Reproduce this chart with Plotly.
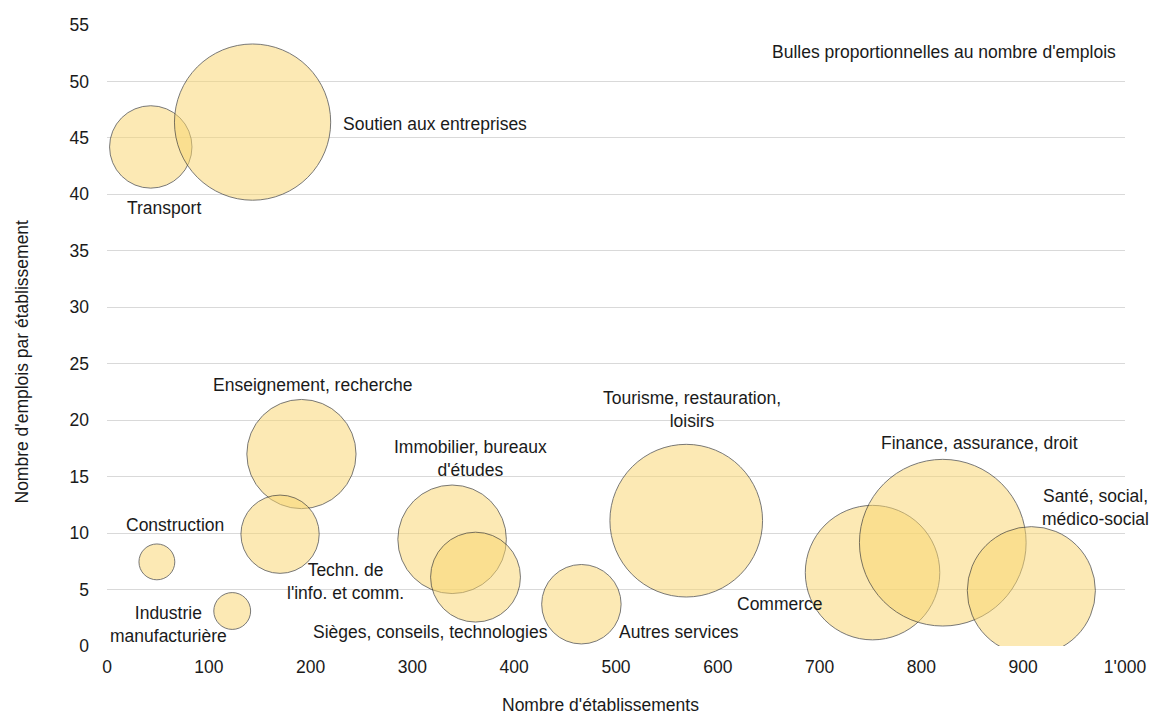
import plotly.graph_objects as go

# ---- data ----
secteurs = [
    "Transport", "Soutien aux entreprises", "Enseignement, recherche",
    "Techn. de<br>l'info. et comm.", "Construction", "Industrie<br>manufacturière",
    "Immobilier, bureaux<br>d'études", "Sièges, conseils, technologies",
    "Autres services", "Tourisme, restauration,<br>loisirs", "Commerce",
    "Finance, assurance, droit", "Santé, social,<br>médico-social",
]
etablissements = [43, 143, 191, 170, 49, 123, 339, 362, 466, 569, 752, 821, 908]
emplois_par_etab = [44.2, 46.4, 17.0, 9.9, 7.45, 3.1, 9.45, 6.1, 3.7, 11.1, 6.5, 9.15, 4.9]
emplois = [1850, 6650, 3250, 1670, 350, 370, 3210, 2200, 1720, 6350, 4930, 7570, 4470]

x_ticks = [0, 100, 200, 300, 400, 500, 600, 700, 800, 900, 1000]
x_ticklabels = ["0", "100", "200", "300", "400", "500", "600", "700", "800", "900", "1'000"]
y_ticks = [0, 5, 10, 15, 20, 25, 30, 35, 40, 45, 50, 55]

# ---- label placement (pixel offsets from bubble centre) ----
label_style = [
    dict(dx=13, dy=61, anchor="center"),
    dict(dx=88, dy=2, anchor="left"),
    dict(dx=11, dy=-69, anchor="center"),
    dict(dx=65, dy=47, anchor="center"),
    dict(dx=18, dy=-37, anchor="center"),
    dict(dx=-64, dy=13, anchor="center"),
    dict(dx=18, dy=-81, anchor="center"),
    dict(dx=-45, dy=55, anchor="center"),
    dict(dx=98, dy=28, anchor="center"),
    dict(dx=6, dy=-111, anchor="center"),
    dict(dx=-93, dy=31, anchor="center"),
    dict(dx=37, dy=-100, anchor="center"),
    dict(dx=64, dy=-83, anchor="center"),
]

FONT = "Liberation Sans, Arial, sans-serif"
TXT = "#1a1a1a"
FS = 17.5

fig = go.Figure()
fig.add_trace(go.Scatter(
    x=etablissements, y=emplois_par_etab, mode="markers",
    marker=dict(size=emplois, sizemode="area", sizeref=0.545,
                color="rgba(250,214,112,0.74)",
                line=dict(color="#2b2b2b", width=0.9)),
    hovertext=secteurs, showlegend=False,
))

for name, xv, yv, st in zip(secteurs, etablissements, emplois_par_etab, label_style):
    fig.add_annotation(x=xv, y=yv, xref="x", yref="y", text=name, showarrow=False,
                       xanchor=st["anchor"], yanchor="middle", align="center",
                       xshift=st["dx"], yshift=-st["dy"],
                       font=dict(family=FONT, size=FS, color=TXT))

fig.add_annotation(x=1.0, y=1.0, xref="paper", yref="paper", xanchor="right", yanchor="middle",
                   xshift=-7, yshift=-27,
                   text="Bulles proportionnelles au nombre d'emplois", showarrow=False,
                   font=dict(family=FONT, size=FS, color=TXT))
# axis titles
fig.add_annotation(x=0.5, y=0, xref="paper", yref="paper", xanchor="center", yanchor="middle",
                   xshift=-16, yshift=-59, text="Nombre d'établissements", showarrow=False,
                   font=dict(family=FONT, size=FS, color=TXT))
fig.add_annotation(x=0, y=0.5, xref="paper", yref="paper", xanchor="center", yanchor="middle",
                   xshift=-86, yshift=-26, textangle=-90, text="Nombre d'emplois par établissement",
                   showarrow=False, font=dict(family=FONT, size=FS, color=TXT))

# page body has an 8px margin: figure is 1142x706 so it fits the window without scrollbars
fig.update_layout(
    width=1142, height=706,
    margin=dict(l=99, r=25, t=17, b=68),
    paper_bgcolor="white", plot_bgcolor="white",
    font=dict(family=FONT, size=FS, color=TXT),
)

fig.update_xaxes(range=[0, 1000], tickvals=x_ticks, ticktext=x_ticklabels, automargin=False,
                 showgrid=False, zeroline=False, showline=False, ticks="",
                 ticklabelstandoff=8, tickfont=dict(family=FONT, size=FS, color=TXT))
fig.update_yaxes(range=[0, 55], tickvals=y_ticks, showgrid=True, gridcolor="#d9d9d9", automargin=False,
                 gridwidth=1.3, zeroline=False, showline=False, ticks="",
                 ticklabelstandoff=17, tickfont=dict(family=FONT, size=FS, color=TXT))

fig.write_html("out.html")
